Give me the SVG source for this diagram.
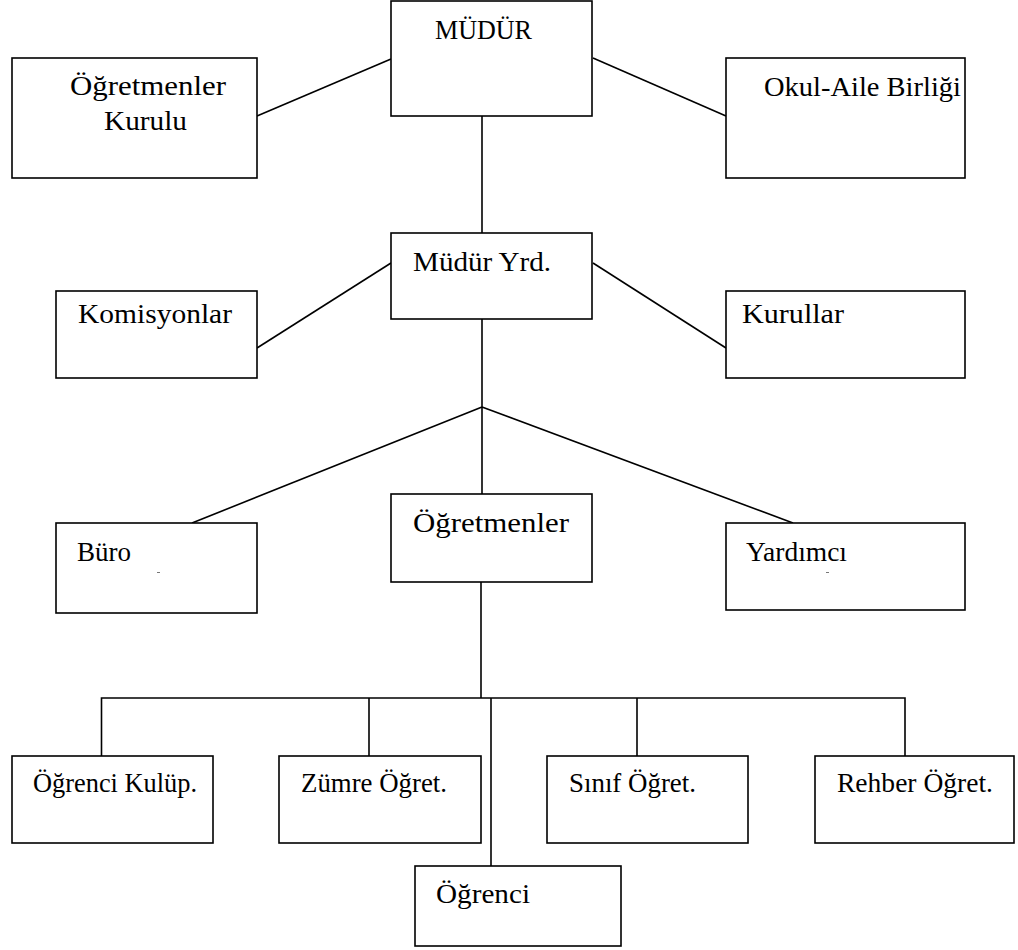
<svg xmlns="http://www.w3.org/2000/svg" width="1018" height="950" viewBox="0 0 1018 950">
<style>
.box{fill:#fff;stroke:#000;stroke-width:1.6}
.ln{fill:none;stroke:#000;stroke-width:1.6}
.t{font-family:"Liberation Serif","Times New Roman",serif;font-size:27px;fill:#000}
.dash{stroke:#777;stroke-width:1}
</style>
<rect width="1018" height="950" fill="#fff"/>
<g id="connectors">
<line class="ln" x1="257" y1="116" x2="391" y2="59"/>
<line class="ln" x1="593" y1="58" x2="726" y2="116"/>
<line class="ln" x1="482" y1="116" x2="482" y2="233"/>
<line class="ln" x1="391" y1="263" x2="257" y2="348"/>
<line class="ln" x1="593" y1="263" x2="726" y2="348"/>
<line class="ln" x1="482" y1="319" x2="482" y2="494"/>
<line class="ln" x1="482" y1="407" x2="192" y2="523"/>
<line class="ln" x1="482" y1="407" x2="793" y2="523"/>
<line class="ln" x1="481" y1="582" x2="481" y2="698"/>
<polyline class="ln" points="101.5,756 101.5,698 905,698 905,756"/>
<line class="ln" x1="369" y1="698" x2="369" y2="756"/>
<line class="ln" x1="637" y1="698" x2="637" y2="756"/>
<line class="ln" x1="491" y1="698" x2="491" y2="866"/>
</g>
<g id="mudur">
<rect class="box" x="391" y="1" width="201" height="115"/>
<text class="t" x="435" y="39" textLength="97" lengthAdjust="spacingAndGlyphs">MÜDÜR</text>
</g>
<g id="ogretmenler-kurulu">
<rect class="box" x="12" y="58" width="245" height="120"/>
<text class="t" x="70" y="95" textLength="156" lengthAdjust="spacingAndGlyphs">Öğretmenler</text>
<text class="t" x="104" y="130" textLength="83" lengthAdjust="spacingAndGlyphs">Kurulu</text>
</g>
<g id="okul-aile">
<rect class="box" x="726" y="58" width="239" height="120"/>
<text class="t" x="764" y="96" textLength="197" lengthAdjust="spacingAndGlyphs">Okul-Aile Birliği</text>
</g>
<g id="mudur-yrd">
<rect class="box" x="391" y="233" width="201" height="86"/>
<text class="t" x="413" y="271" textLength="138" lengthAdjust="spacingAndGlyphs">Müdür Yrd.</text>
</g>
<g id="komisyonlar">
<rect class="box" x="56" y="291" width="201" height="87"/>
<text class="t" x="78" y="323" textLength="154" lengthAdjust="spacingAndGlyphs">Komisyonlar</text>
</g>
<g id="kurullar">
<rect class="box" x="726" y="291" width="239" height="87"/>
<text class="t" x="742" y="323" textLength="102" lengthAdjust="spacingAndGlyphs">Kurullar</text>
</g>
<g id="buro">
<rect class="box" x="56" y="523" width="201" height="90"/>
<text class="t" x="77" y="561" textLength="54" lengthAdjust="spacingAndGlyphs">Büro</text>
<line class="dash" x1="157" y1="572.5" x2="160" y2="572.5"/>
</g>
<g id="ogretmenler">
<rect class="box" x="391" y="494" width="201" height="88"/>
<text class="t" x="413" y="532" textLength="156" lengthAdjust="spacingAndGlyphs">Öğretmenler</text>
</g>
<g id="yardimci">
<rect class="box" x="726" y="523" width="239" height="87"/>
<text class="t" x="746" y="561" textLength="101" lengthAdjust="spacingAndGlyphs">Yardımcı</text>
<line class="dash" x1="826" y1="572.5" x2="829" y2="572.5"/>
</g>
<g id="ogrenci-kulup">
<rect class="box" x="12" y="756" width="201" height="87"/>
<text class="t" x="33" y="792" textLength="164" lengthAdjust="spacingAndGlyphs">Öğrenci Kulüp.</text>
</g>
<g id="zumre">
<rect class="box" x="279" y="756" width="202" height="87"/>
<text class="t" x="301" y="792" textLength="146" lengthAdjust="spacingAndGlyphs">Zümre Öğret.</text>
</g>
<g id="sinif">
<rect class="box" x="547" y="756" width="201" height="87"/>
<text class="t" x="569" y="792" textLength="127" lengthAdjust="spacingAndGlyphs">Sınıf Öğret.</text>
</g>
<g id="rehber">
<rect class="box" x="815" y="756" width="199" height="87"/>
<text class="t" x="837" y="792" textLength="156" lengthAdjust="spacingAndGlyphs">Rehber Öğret.</text>
</g>
<g id="ogrenci">
<rect class="box" x="415" y="866" width="206" height="80"/>
<text class="t" x="436" y="903" textLength="94" lengthAdjust="spacingAndGlyphs">Öğrenci</text>
</g>
</svg>
